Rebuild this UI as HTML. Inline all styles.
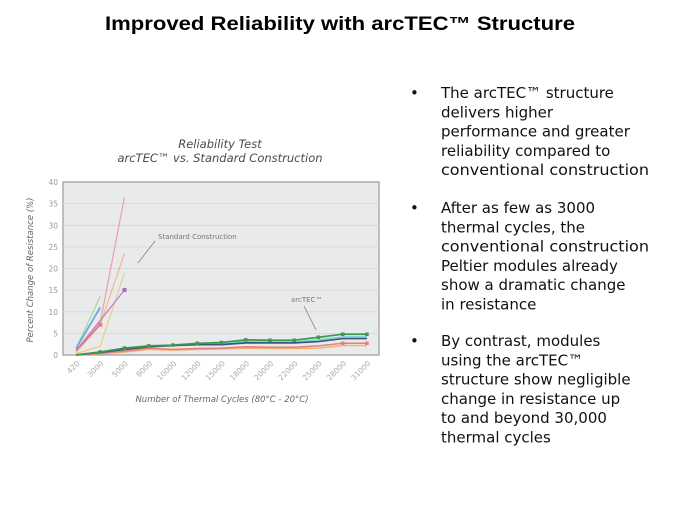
<!DOCTYPE html>
<html><head><meta charset="utf-8"><style>
html,body{margin:0;padding:0;background:#fff;}
svg{display:block;}
</style></head><body>
<svg width="675" height="506" viewBox="0 0 675 506" xmlns="http://www.w3.org/2000/svg">
<text x="340" y="30" text-anchor="middle" font-family="Liberation Sans, sans-serif" font-weight="bold" font-size="19" textLength="470" lengthAdjust="spacingAndGlyphs" fill="#000">Improved Reliability with arcTEC™ Structure</text>

<g font-family="DejaVu Sans, sans-serif" font-style="italic" fill="#4a4a4a" text-anchor="middle">
<text x="220" y="148" font-size="11.5">Reliability Test</text>
<text x="220" y="162" font-size="11.5">arcTEC™ vs. Standard Construction</text>
</g>

<rect x="63" y="182" width="316" height="173" fill="#e9eaeb" stroke="#9a9a9a" stroke-width="1.2"/>
<g stroke="#d4d6d8" stroke-width="0.8">
<line x1="63" y1="203.6" x2="379" y2="203.6"/>
<line x1="63" y1="225.3" x2="379" y2="225.3"/>
<line x1="63" y1="246.9" x2="379" y2="246.9"/>
<line x1="63" y1="268.6" x2="379" y2="268.6"/>
<line x1="63" y1="290.2" x2="379" y2="290.2"/>
<line x1="63" y1="311.8" x2="379" y2="311.8"/>
<line x1="63" y1="333.4" x2="379" y2="333.4"/>
</g>
<g font-family="DejaVu Sans, sans-serif" font-size="7.5" fill="#999" text-anchor="end">
<text x="58" y="185">40</text><text x="58" y="206.6">35</text><text x="58" y="228.3">30</text>
<text x="58" y="249.9">25</text><text x="58" y="271.6">20</text><text x="58" y="293.2">15</text>
<text x="58" y="314.8">10</text><text x="58" y="336.4">5</text><text x="58" y="358">0</text>
</g>
<g font-family="DejaVu Sans, sans-serif" font-size="7.5" fill="#aaa" text-anchor="end">
<text transform="translate(80,364) rotate(-45)">420</text>
<text transform="translate(104,364) rotate(-45)">3000</text>
<text transform="translate(128.5,364) rotate(-45)">5000</text>
<text transform="translate(152.75,364) rotate(-45)">8000</text>
<text transform="translate(177,364) rotate(-45)">10000</text>
<text transform="translate(201.25,364) rotate(-45)">12000</text>
<text transform="translate(225.5,364) rotate(-45)">15000</text>
<text transform="translate(249.75,364) rotate(-45)">18000</text>
<text transform="translate(274,364) rotate(-45)">20000</text>
<text transform="translate(298.25,364) rotate(-45)">22000</text>
<text transform="translate(322.5,364) rotate(-45)">25000</text>
<text transform="translate(346.75,364) rotate(-45)">28000</text>
<text transform="translate(371,364) rotate(-45)">31000</text>
</g>
<text transform="translate(33,270) rotate(-90)" text-anchor="middle" font-family="DejaVu Sans, sans-serif" font-style="italic" font-size="8.5" fill="#666">Percent Change of Resistance (%)</text>
<text x="222" y="402" text-anchor="middle" font-family="DejaVu Sans, sans-serif" font-style="italic" font-size="8.5" fill="#666">Number of Thermal Cycles (80°C - 20°C)</text>

<g font-family="DejaVu Sans, sans-serif" font-size="7" fill="#777">
<text x="158" y="239">Standard Construction</text>
<text x="291" y="302">arcTEC™</text>
</g>
<g stroke="#777" stroke-width="0.7">
<line x1="155" y1="241" x2="138" y2="263"/>
<line x1="304" y1="306" x2="316" y2="330"/>
</g>

<g transform="translate(0,355) scale(1,-4.33)" fill="none" stroke-width="1.2">
<polyline vector-effect="non-scaling-stroke" stroke="#e9a0a8" points="76,1 100.25,7.5 124.5,36.5"/>
<polyline vector-effect="non-scaling-stroke" stroke="#f0b890" points="76,0.5 100.25,7 124.5,23.5"/>
<polyline vector-effect="non-scaling-stroke" stroke="#e6d08a" points="76,0.3 100.25,2 124.5,19"/>
<polyline vector-effect="non-scaling-stroke" stroke="#c27ac0" points="76,1 100.25,8 124.5,15"/>
<polyline vector-effect="non-scaling-stroke" stroke="#a8d8a0" points="76,1.5 100.25,13.5"/>
<polyline vector-effect="non-scaling-stroke" stroke="#6aaed8" stroke-width="1.8" points="76,1.5 100.25,11"/>
<polyline vector-effect="non-scaling-stroke" stroke="#e07080" points="76,1 100.25,7"/>
<polyline vector-effect="non-scaling-stroke" stroke="#f3b070" stroke-width="1.5" points="76,0 100.25,0.3 124.5,0.7 148.75,1.3 173,1.1 197.25,1.3 221.5,1.4 245.75,1.6 270,1.5 294.25,1.5 318.5,1.6 342.75,2.2 367,2.2"/>
<polyline vector-effect="non-scaling-stroke" stroke="#e77e7e" stroke-width="1.5" points="76,0 100.25,0.4 124.5,0.9 148.75,1.6 173,1.3 197.25,1.5 221.5,1.6 245.75,1.9 270,1.8 294.25,1.8 318.5,2.1 342.75,2.7 367,2.7"/>
<polyline vector-effect="non-scaling-stroke" stroke="#80d0d8" stroke-width="1.5" points="76,0 100.25,0.6 124.5,1.4 148.75,2 173,2.2 197.25,2.5 221.5,2.6 245.75,3.1 270,3 294.25,3 318.5,3.5 342.75,4.2 367,4.2"/>
<polyline vector-effect="non-scaling-stroke" stroke="#3a5a7a" stroke-width="1.7" points="76,0 100.25,0.6 124.5,1.3 148.75,1.9 173,2.2 197.25,2.4 221.5,2.4 245.75,2.8 270,2.8 294.25,2.8 318.5,3.1 342.75,3.8 367,3.8"/>
<polyline vector-effect="non-scaling-stroke" stroke="#3c9a50" stroke-width="1.7" points="76,0 100.25,0.7 124.5,1.6 148.75,2.1 173,2.3 197.25,2.7 221.5,2.9 245.75,3.5 270,3.4 294.25,3.4 318.5,4.1 342.75,4.8 367,4.8"/>
</g>
<g fill="#3c9a50">
<rect x="98.5" y="350.2" width="3.5" height="3.5"/><rect x="122.7" y="346.3" width="3.5" height="3.5"/>
<rect x="147" y="344.1" width="3.5" height="3.5"/><rect x="171.2" y="343.3" width="3.5" height="3.5"/>
<rect x="195.5" y="341.6" width="3.5" height="3.5"/><rect x="219.7" y="340.7" width="3.5" height="3.5"/>
<rect x="244" y="338.1" width="3.5" height="3.5"/><rect x="268.2" y="338.5" width="3.5" height="3.5"/>
<rect x="292.5" y="338.5" width="3.5" height="3.5"/><rect x="316.7" y="335.5" width="3.5" height="3.5"/>
<rect x="341" y="332.5" width="3.5" height="3.5"/><rect x="365.2" y="332.5" width="3.5" height="3.5"/>
</g>
<g fill="#e77e7e">
<rect x="98.3" y="322.7" width="4" height="4"/><rect x="341" y="341.5" width="3.5" height="3.5"/><rect x="365.2" y="341.5" width="3.5" height="3.5"/>
</g>
<rect x="122.5" y="288" width="4" height="4" fill="#a070c0"/>

<g font-family="DejaVu Sans, Verdana, sans-serif" font-size="15" fill="#111">
<text x="410" y="98">•</text>
<text x="441" y="98">The arcTEC™ structure</text>
<text x="441" y="117.3">delivers higher</text>
<text x="441" y="136.6">performance and greater</text>
<text x="441" y="155.9">reliability compared to</text>
<text x="441" y="175.2" textLength="208" lengthAdjust="spacingAndGlyphs">conventional construction</text>

<text x="410" y="213">•</text>
<text x="441" y="213">After as few as 3000</text>
<text x="441" y="232.3">thermal cycles, the</text>
<text x="441" y="251.6" textLength="208" lengthAdjust="spacingAndGlyphs">conventional construction</text>
<text x="441" y="270.9">Peltier modules already</text>
<text x="441" y="290.2">show a dramatic change</text>
<text x="441" y="309.5">in resistance</text>

<text x="410" y="346">•</text>
<text x="441" y="346">By contrast, modules</text>
<text x="441" y="365.3">using the arcTEC™</text>
<text x="441" y="384.6">structure show negligible</text>
<text x="441" y="403.9">change in resistance up</text>
<text x="441" y="423.2">to and beyond 30,000</text>
<text x="441" y="442.5">thermal cycles</text>
</g>
</svg>
</body></html>
